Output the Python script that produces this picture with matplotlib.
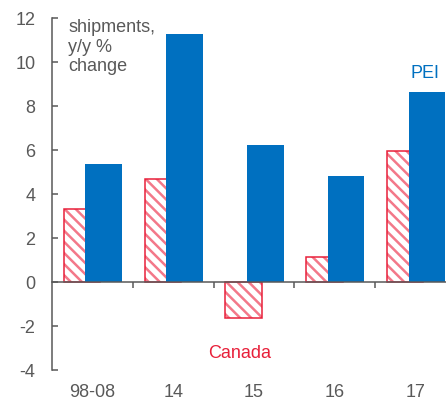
import matplotlib.pyplot as plt
import numpy as np

plt.rcParams['font.family'] = ['Liberation Sans', 'DejaVu Sans']
plt.rcParams['axes.unicode_minus'] = False
plt.rcParams['hatch.linewidth'] = 1.8

# data
categories = ['98-08', '14', '15', '16', '17']
canada = [3.33, 4.68, -1.61, 1.14, 5.98]
pei = [5.39, 11.27, 6.24, 4.83, 8.64]

blue = '#0070C0'
red = '#E8203A'
light_red = '#F37889'
grey = '#595959'

fig = plt.figure(figsize=(4.46, 4.0), dpi=100)
ax = fig.add_axes([0.1166, 0.074, 0.8834, 0.881])

x = np.arange(len(categories))
w = 0.452
# hatch takes the edge colour, so hatch layer first, then the red outline
ax.bar(x - 0.129, canada, w, facecolor='white', edgecolor=light_red,
       hatch='\\\\\\', linewidth=0, zorder=2)
ax.bar(x - 0.129, canada, w, facecolor='none', edgecolor=red,
       linewidth=1.1, zorder=2)
ax.bar(x + 0.14, pei, w, color=blue, linewidth=0, zorder=3)

ax.set_xlim(-0.5, 4.376)
ax.set_ylim(-4, 12)
ax.set_yticks(np.arange(-4, 13, 2))

for s in ['top', 'right']:
    ax.spines[s].set_visible(False)
ax.spines['left'].set_color(grey)
ax.spines['left'].set_linewidth(1.1)
ax.spines['bottom'].set_position(('data', 0))
ax.spines['bottom'].set_color(grey)
ax.spines['bottom'].set_linewidth(1.1)
ax.spines['bottom'].set_zorder(4)

ax.tick_params(axis='y', direction='in', length=4, width=1.1, color=grey,
               labelcolor=grey, labelsize=13, pad=12)
ax.set_xticks(x[:-1] + 0.5)
ax.tick_params(axis='x', direction='out', length=4, width=1.1, color=grey,
               labelbottom=False)

sec = ax.secondary_xaxis('bottom')
sec.set_xticks(x, categories)
sec.spines['bottom'].set_visible(False)
sec.tick_params(length=0, labelcolor=grey, labelsize=13, pad=10)

ax.text(-0.3, 11.95, 'shipments,\ny/y %\nchange', ha='left', va='top',
        fontsize=13, color=grey, linespacing=1.2)
ax.text(1.827, -3.25, 'Canada', ha='center', va='center', fontsize=13, color=red)
ax.text(4.12, 9.49, 'PEI', ha='center', va='center', fontsize=13, color=blue)

fig.savefig('out.png', dpi=100)
